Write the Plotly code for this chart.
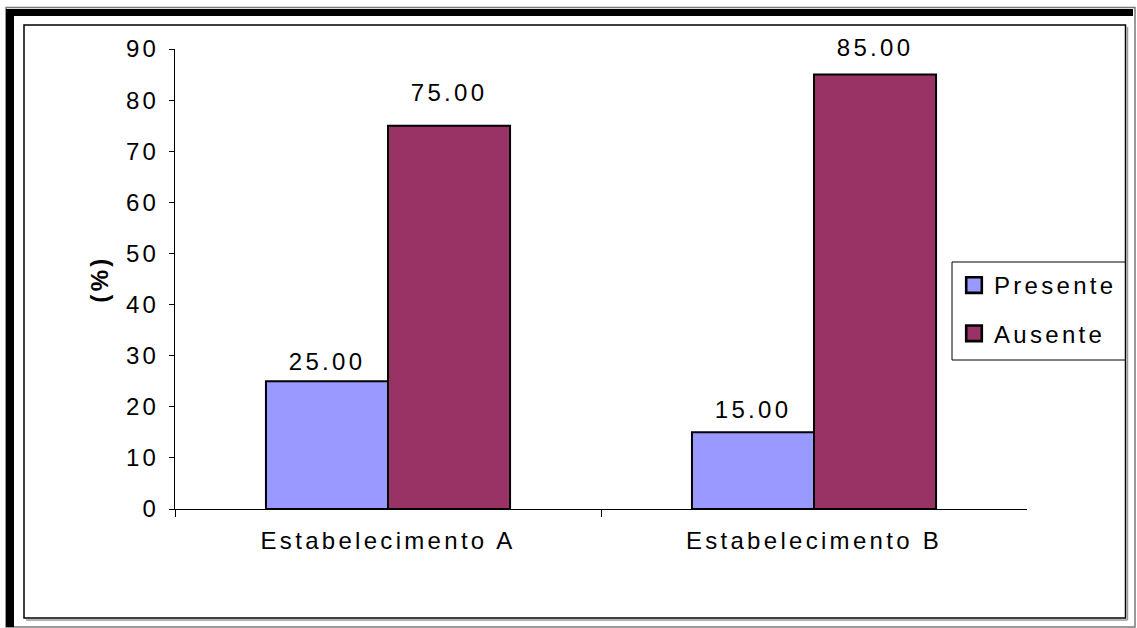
import plotly.graph_objects as go

# Chart data
categories = ["Estabelecimento A", "Estabelecimento B"]
presente = [25.00, 15.00]
ausente = [75.00, 85.00]
y_ticks = [0, 10, 20, 30, 40, 50, 60, 70, 80, 90]

W, H = 1137, 628
FONT = "Arial, 'Liberation Sans', sans-serif"
BARGAP = 0.427

# vertical lift (px) of each value label's centre above its bar top
label_lift = {"Presente": [20, 23], "Ausente": [33, 27]}


def px(x):
    return x / W


def py(y):
    return 1 - y / H


fig = go.Figure()
fig.add_bar(
    name="Presente", x=categories, y=presente,
    marker=dict(color="#9999FF", line=dict(color="black", width=2)),
    legendgroup="presente",
)
fig.add_bar(
    name="Ausente", x=categories, y=ausente,
    marker=dict(color="#993366", line=dict(color="black", width=2)),
    legendgroup="ausente",
)

# value labels above each bar (bar centres sit a quarter group-width
# either side of the category centre)
half = (1 - BARGAP) / 4
annotations = []
for sign, name, values in ((-1, "Presente", presente), (1, "Ausente", ausente)):
    for j, v in enumerate(values):
        annotations.append(dict(
            x=j + sign * half, y=v, xref="x", yref="y",
            text=f"{v:.2f}", showarrow=False,
            yanchor="middle", yshift=label_lift[name][j],
            font=dict(family=FONT, size=24, color="black"),
        ))


def frame_rect(x0, y0, x1, y1, **kw):
    return dict(type="rect", xref="paper", yref="paper",
                x0=px(x0), x1=px(x1), y0=py(y1), y1=py(y0), **kw)


def frame_line(x0, y0, x1, y1, **kw):
    return dict(type="line", xref="paper", yref="paper",
                x0=px(x0), x1=px(x1), y0=py(y0), y1=py(y1), **kw)


shapes = [
    # outer grey frame
    frame_rect(6, 7.5, 1135, 627, line=dict(color="#7a7a7a", width=1.5)),
    # heavy black edges on top and left
    frame_rect(6, 9, 1133, 16, fillcolor="black", line=dict(width=0)),
    frame_rect(6, 9, 14, 627, fillcolor="black", line=dict(width=0)),
    # faint shadow on the right/bottom of the chart-area frame
    frame_line(1127.5, 27, 1127.5, 620, line=dict(color="#9a9a9a", width=1.5)),
    frame_line(26, 620, 1127.5, 620, line=dict(color="#9a9a9a", width=1.5)),
    # chart-area frame
    frame_rect(24, 25, 1125.5, 618, line=dict(color="black", width=1.5)),
    # legend box
    frame_rect(952, 262, 1125.5, 360, line=dict(color="black", width=1)),
]

fig.update_layout(
    width=W, height=H, autosize=False,
    margin=dict(l=0, r=0, t=0, b=0, autoexpand=False),
    paper_bgcolor="white", plot_bgcolor="white",
    font=dict(family=FONT, size=24, color="black"),
    barmode="group", bargap=BARGAP, bargroupgap=0,
    showlegend=True,
    legend=dict(
        x=px(954), y=py(263), xanchor="left", yanchor="top",
        bgcolor="rgba(0,0,0,0)", borderwidth=0,
        font=dict(family=FONT, size=24, color="black"),
        tracegroupgap=14,
    ),
    shapes=shapes,
    annotations=annotations,
    xaxis=dict(
        domain=[px(175), px(1027)], automargin=False,
        showline=True, linecolor="black", linewidth=1,
        ticks="outside", tickson="boundaries", ticklen=7,
        tickcolor="black", tickwidth=1,
        showgrid=False, ticklabelstandoff=10,
    ),
    yaxis=dict(
        domain=[py(509), py(49)], automargin=False,
        range=[0, 90], tickmode="array", tickvals=y_ticks,
        showline=True, linecolor="black", linewidth=1,
        ticks="outside", ticklen=5, tickcolor="black", tickwidth=1,
        showgrid=False, zeroline=False, ticklabelstandoff=5,
        title=dict(text="<b>(%)</b>", standoff=17,
                   font=dict(family=FONT, size=24, color="black")),
    ),
)

# Arial-style text is drawn with a little extra tracking; legend clipping is
# lifted so the wider legend labels are not cut off, and the legend swatches
# are drawn a bit larger.
post = """
document.body.style.margin = '0';
var st = document.createElement('style');
st.textContent = '.main-svg text { letter-spacing: 3.3px; }';
document.head.appendChild(st);
document.querySelectorAll('.legend [clip-path]').forEach(function (el) {
    el.removeAttribute('clip-path');
});
document.querySelectorAll('.legend .legendpoints path').forEach(function (el) {
    var t = el.getAttribute('transform') || '';
    el.setAttribute('transform', t + ' scale(1.3)');
});
"""

fig.write_html("out.html", post_script=post)
